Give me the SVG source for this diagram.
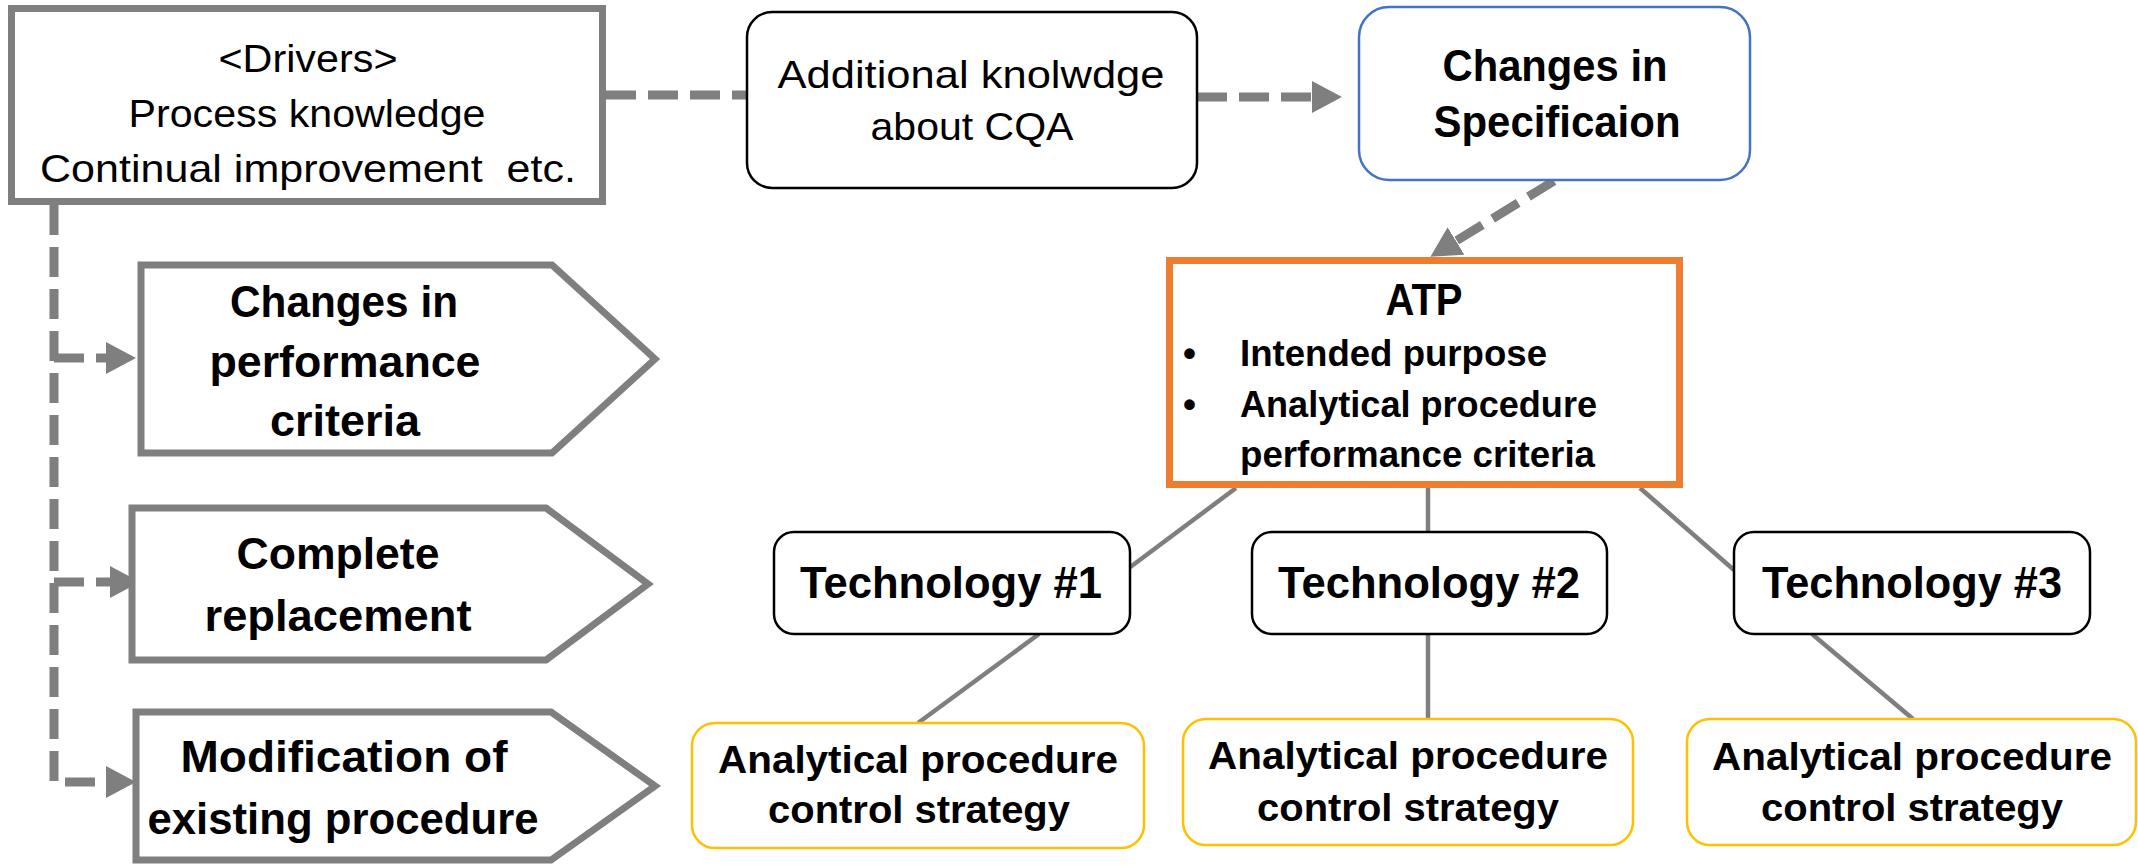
<svg xmlns="http://www.w3.org/2000/svg" width="2138" height="865" viewBox="0 0 2138 865">
  <style>
    .txt { font-family: 'Liberation Sans', Arial, sans-serif; fill: #000; text-anchor: middle; }
    .reg { font-weight: normal; font-size: 39px; }
    .bold { font-weight: bold; font-size: 44px; }
    .sub { font-weight: bold; font-size: 37px; text-anchor: start; }
    .acs { font-weight: bold; font-size: 39px; }
    .grayBox { fill: #fff; stroke: #7f7f7f; stroke-width: 7; }
    .plainBox { fill: #fff; stroke: #000; stroke-width: 2.5; }
    .specBox { fill: #fff; stroke: #4472c4; stroke-width: 2.5; }
    .atpBox { fill: #fff; stroke: #ed7d31; stroke-width: 7; }
    .acsBox { fill: #fff; stroke: #ffc000; stroke-width: 2.5; }
    .dash { fill: none; stroke: #7f7f7f; stroke-width: 9; stroke-dasharray: 30 12; }
    .link { fill: none; stroke: #7f7f7f; stroke-width: 4.5; }
  </style>
  <defs>
    <marker id="head" markerUnits="userSpaceOnUse" markerWidth="30" markerHeight="32" refX="0" refY="16" orient="auto">
      <path d="M0,0 L30,16 L0,32 z" fill="#7f7f7f"/>
    </marker>
  </defs>

  <rect width="2138" height="865" fill="#fff"/>

  <!-- connectors -->
  <g id="connectors">
    <path class="dash" d="M606,95 H748"/>
    <path class="dash" d="M1197,97 H1312" marker-end="url(#head)"/>
    <path class="dash" d="M1554,181 L1456,241" marker-end="url(#head)"/>
    <path class="dash" d="M54,205 V782 H106" marker-end="url(#head)"/>
    <path class="dash" d="M54,358 H106" marker-end="url(#head)"/>
    <path class="dash" d="M54,582 H110" marker-end="url(#head)"/>
    <path class="link" d="M1236,488 L1129,568"/>
    <path class="link" d="M1428,488 V532"/>
    <path class="link" d="M1640,488 L1734,570"/>
    <path class="link" d="M1039,634 L918,723"/>
    <path class="link" d="M1428,634 V719"/>
    <path class="link" d="M1812,634 L1913,719"/>
  </g>

  <!-- drivers -->
  <g id="drivers">
    <rect class="grayBox" x="11.5" y="8.5" width="591" height="193"/>
    <text class="txt reg" x="308" y="72" textLength="179" lengthAdjust="spacingAndGlyphs">&lt;Drivers&gt;</text>
    <text class="txt reg" x="307" y="127" textLength="357" lengthAdjust="spacingAndGlyphs">Process knowledge</text>
    <text class="txt reg" x="308" y="182" textLength="536" lengthAdjust="spacingAndGlyphs" xml:space="preserve">Continual improvement  etc.</text>
  </g>

  <!-- additional knowledge -->
  <g id="additional-knowledge">
    <rect class="plainBox" x="747" y="12" width="450" height="176" rx="25"/>
    <text class="txt reg" x="971" y="88" textLength="387" lengthAdjust="spacingAndGlyphs">Additional knolwdge</text>
    <text class="txt reg" x="972" y="140" textLength="203" lengthAdjust="spacingAndGlyphs">about CQA</text>
  </g>

  <!-- specification -->
  <g id="changes-in-specification">
    <rect class="specBox" x="1359" y="7" width="391" height="173" rx="30"/>
    <text class="txt bold" x="1555" y="81" font-size="45" textLength="225" lengthAdjust="spacingAndGlyphs">Changes in</text>
    <text class="txt bold" x="1557" y="137" font-size="45" textLength="247" lengthAdjust="spacingAndGlyphs">Specificaion</text>
  </g>

  <!-- outcome arrows on the left -->
  <g id="performance-criteria">
    <polygon class="grayBox" points="141,265 552,265 655,359 552,453 141,453"/>
    <text class="txt bold" x="344" y="317" textLength="228" lengthAdjust="spacingAndGlyphs">Changes in</text>
    <text class="txt bold" x="345" y="377" textLength="271" lengthAdjust="spacingAndGlyphs">performance</text>
    <text class="txt bold" x="345" y="436" textLength="150" lengthAdjust="spacingAndGlyphs">criteria</text>
  </g>
  <g id="complete-replacement">
    <polygon class="grayBox" points="132,508 546,508 648,584 546,660 132,660"/>
    <text class="txt bold" x="338" y="569" textLength="203" lengthAdjust="spacingAndGlyphs">Complete</text>
    <text class="txt bold" x="338" y="631" textLength="267" lengthAdjust="spacingAndGlyphs">replacement</text>
  </g>
  <g id="modification">
    <polygon class="grayBox" points="136,712 551,712 655,786 551,860 136,860"/>
    <text class="txt bold" x="344" y="772" textLength="327" lengthAdjust="spacingAndGlyphs">Modification of</text>
    <text class="txt bold" x="343" y="834" textLength="391" lengthAdjust="spacingAndGlyphs">existing procedure</text>
  </g>

  <!-- ATP -->
  <g id="atp">
    <rect class="atpBox" x="1169.5" y="260.5" width="510" height="224"/>
    <text class="txt bold" x="1424" y="315" font-size="42" textLength="77" lengthAdjust="spacingAndGlyphs">ATP</text>
    <text class="txt sub" x="1183" y="366">•</text>
    <text class="txt sub" x="1183" y="417">•</text>
    <text class="txt sub" x="1240" y="366" textLength="307" lengthAdjust="spacingAndGlyphs">Intended purpose</text>
    <text class="txt sub" x="1240" y="417" textLength="357" lengthAdjust="spacingAndGlyphs">Analytical procedure</text>
    <text class="txt sub" x="1240" y="467" textLength="355" lengthAdjust="spacingAndGlyphs">performance criteria</text>
  </g>

  <!-- technologies -->
  <g id="technology-1">
    <rect class="plainBox" x="774" y="532" width="356" height="102" rx="20"/>
    <text class="txt bold" x="951" y="598" font-size="45" textLength="302" lengthAdjust="spacingAndGlyphs">Technology #1</text>
  </g>
  <g id="technology-2">
    <rect class="plainBox" x="1252" y="532" width="355" height="102" rx="20"/>
    <text class="txt bold" x="1429" y="598" font-size="45" textLength="302" lengthAdjust="spacingAndGlyphs">Technology #2</text>
  </g>
  <g id="technology-3">
    <rect class="plainBox" x="1734" y="532" width="356" height="102" rx="20"/>
    <text class="txt bold" x="1912" y="598" font-size="45" textLength="300" lengthAdjust="spacingAndGlyphs">Technology #3</text>
  </g>

  <!-- control strategies -->
  <g id="control-strategy-1">
    <rect class="acsBox" x="692" y="723" width="452" height="125" rx="23"/>
    <text class="txt acs" x="918" y="773" textLength="400" lengthAdjust="spacingAndGlyphs">Analytical procedure</text>
    <text class="txt acs" x="919" y="823" textLength="302" lengthAdjust="spacingAndGlyphs">control strategy</text>
  </g>
  <g id="control-strategy-2">
    <rect class="acsBox" x="1183" y="719" width="450" height="126" rx="23"/>
    <text class="txt acs" x="1408" y="769" textLength="400" lengthAdjust="spacingAndGlyphs">Analytical procedure</text>
    <text class="txt acs" x="1408" y="821" textLength="302" lengthAdjust="spacingAndGlyphs">control strategy</text>
  </g>
  <g id="control-strategy-3">
    <rect class="acsBox" x="1687" y="719" width="449" height="126" rx="23"/>
    <text class="txt acs" x="1912" y="770" textLength="400" lengthAdjust="spacingAndGlyphs">Analytical procedure</text>
    <text class="txt acs" x="1912" y="821" textLength="302" lengthAdjust="spacingAndGlyphs">control strategy</text>
  </g>
</svg>
